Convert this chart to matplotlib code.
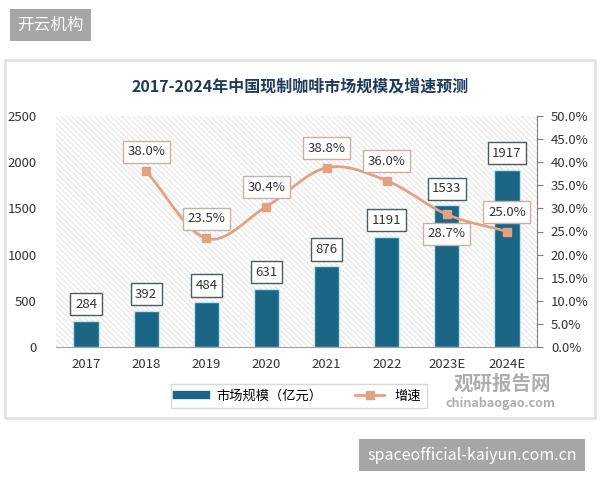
import numpy as np
import matplotlib
matplotlib.use("Agg")
import matplotlib.pyplot as plt
from matplotlib.patches import Rectangle
from matplotlib.lines import Line2D

plt.rcParams['font.family'] = ['Noto Sans CJK SC', 'DejaVu Sans']
plt.rcParams['hatch.color'] = '#dedede'
plt.rcParams['hatch.linewidth'] = 0.6

years = ["2017", "2018", "2019", "2020", "2021", "2022", "2023E", "2024E"]
market_size = [284, 392, 484, 631, 876, 1191, 1533, 1917]
growth_years = ["2018", "2019", "2020", "2021", "2022", "2023E", "2024E"]
growth_rate = [38.0, 23.5, 30.4, 38.8, 36.0, 28.7, 25.0]
growth_label_side = [1, 1, 1, 1, 1, -1, 1]

bar_color = "#1b6585"
line_color = "#e3a183"
title_color = "#1f3a5a"


def smooth_curve(x, y, n=20):
    # Catmull-Rom spline through the points (like Excel smoothed lines)
    x = np.asarray(x, float)
    y = np.asarray(y, float)
    px = np.concatenate([[2 * x[0] - x[1]], x, [2 * x[-1] - x[-2]]])
    py = np.concatenate([[2 * y[0] - y[1]], y, [2 * y[-1] - y[-2]]])
    xs, ys = [], []
    for i in range(1, len(px) - 2):
        t = np.linspace(0, 1, n)
        for p, out in ((px, xs), (py, ys)):
            p0, p1, p2, p3 = p[i - 1], p[i], p[i + 1], p[i + 2]
            out.extend(0.5 * ((2 * p1) + (-p0 + p2) * t
                              + (2 * p0 - 5 * p1 + 4 * p2 - p3) * t ** 2
                              + (-p0 + 3 * p1 - 3 * p2 + p3) * t ** 3))
    return np.array(xs), np.array(ys)


fig = plt.figure(figsize=(6, 4.8), dpi=100)
W, H = 600, 480

# card behind the chart
card = Rectangle((5 / W, 1 - 418 / H), 590 / W, 358 / H,
                 transform=fig.transFigure, facecolor="white",
                 edgecolor="#e2e2e2", linewidth=2, zorder=-5)
fig.add_artist(card)

# top-left tag
fig.text(17 / W, 1 - 25 / H, "开云机构", color="white", fontsize=12,
         va="center", ha="left",
         bbox=dict(boxstyle="square,pad=0.45", facecolor="#a6a6a6", edgecolor="none"))

# bottom-right tag
fig.text(472 / W, 1 - 455 / H, "spaceofficial-kaiyun.com.cn", color="white",
         fontsize=11.5, va="center", ha="center",
         bbox=dict(boxstyle="square,pad=0.5", facecolor="#a6a6a6", edgecolor="none"))

fig.text(300 / W, 1 - 87 / H, "2017-2024年中国现制咖啡市场规模及增速预测",
         color=title_color, fontsize=11.5, fontweight="bold", ha="center", va="center")

ax = fig.add_axes([56 / W, 1 - 347 / H, 481 / W, 231 / H])
ax.patch.set_facecolor("white")
ax.patch.set_hatch("\\\\\\\\\\\\")
ax.patch.set_edgecolor("#dedede")
ax.patch.set_linewidth(0)

x = np.arange(len(years))
bars = ax.bar(x, market_size, width=0.42, color=bar_color,
              edgecolor="#bfe6f0", linewidth=1, zorder=3)
for xi, v in zip(x, market_size):
    ax.annotate(str(v), (xi, v), xytext=(0, 12), textcoords="offset points",
                ha="center", va="center", fontsize=9.5, color="#333333", zorder=6,
                bbox=dict(boxstyle="square,pad=0.35", facecolor="white",
                          edgecolor="#4a5a60", linewidth=1))

ax.set_xlim(-0.5, len(years) - 0.5)
ax.set_ylim(0, 2500)
ax.set_yticks(range(0, 2501, 500))
ax.set_xticks(x)
ax.set_xticklabels(years)
ax.tick_params(axis="both", length=0, labelsize=9.5, labelcolor="#333333")
ax.tick_params(axis="x", pad=8)
ax.tick_params(axis="y", pad=14)
for s in ["top", "right", "left"]:
    ax.spines[s].set_visible(False)
ax.spines["bottom"].set_color("#a0a0a0")
ax.spines["bottom"].set_zorder(4)

ax2 = ax.twinx()
ax2.set_ylim(0, 50)
ax2.set_yticks(np.arange(0, 50.1, 5))
ax2.set_yticklabels([f"{v:.1f}%" for v in np.arange(0, 50.1, 5)])
ax2.tick_params(axis="y", length=4, direction="out", color="#808080",
                labelsize=9.5, labelcolor="#333333", pad=6)
for s in ["top", "left", "bottom"]:
    ax2.spines[s].set_visible(False)
ax2.spines["right"].set_color("#808080")

gx = np.array([years.index(g) for g in growth_years])
sx, sy = smooth_curve(gx, growth_rate)
ax2.plot(sx, sy, color=line_color, linewidth=2, zorder=4)
ax2.plot(gx, growth_rate, "s", color=line_color, markersize=6, zorder=5)
for xi, v, side in zip(gx, growth_rate, growth_label_side):
    ax2.annotate(f"{v:.1f}%", (xi, v), xytext=(0, 14 * side), textcoords="offset points",
                 ha="center", va="center", fontsize=9.5, color="#333333", zorder=6,
                 bbox=dict(boxstyle="square,pad=0.35", facecolor="white",
                           edgecolor="#c9b0a0", linewidth=1))

handles = [Line2D([], [], color=bar_color, linewidth=6),
           Line2D([], [], color=line_color, linewidth=2, marker="s", markersize=6)]
fig.legend(handles, ["市场规模（亿元）", "增速"], loc="center",
           bbox_to_anchor=(299 / W, 1 - 396 / H), ncol=2, frameon=True,
           fontsize=9.5, fancybox=False, edgecolor="#d0d0d0", handlelength=2.2,
           columnspacing=2.5, borderpad=0.4)

# watermark
fig.text(502 / W, 1 - 384 / H, "观研报告网", color="#9a9a9a", fontsize=14,
         fontweight="bold", ha="center", va="center", alpha=0.8)
fig.text(500 / W, 1 - 403 / H, "chinabaogao.com", color="#9a9a9a", fontsize=9,
         fontweight="bold", ha="center", va="center", alpha=0.8)

fig.savefig("out.png", dpi=100)
